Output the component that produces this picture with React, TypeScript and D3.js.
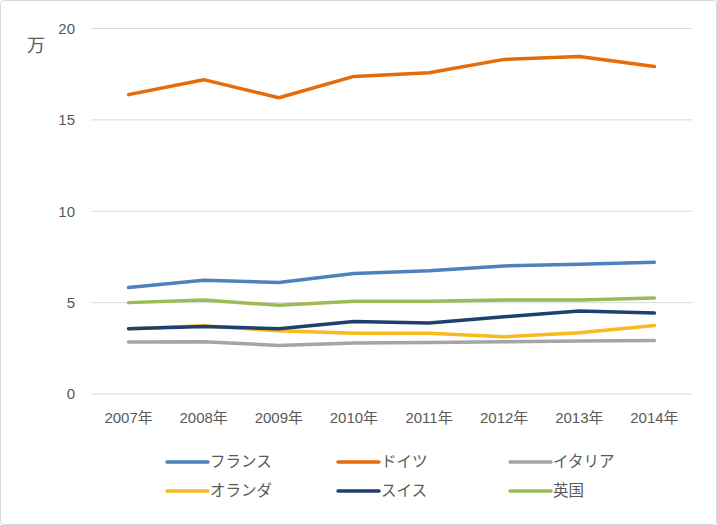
import React from "react";
import * as d3 from "d3";

const YEARS = ["2007年", "2008年", "2009年", "2010年", "2011年", "2012年", "2013年", "2014年"];
const Y_TICKS = [0, 5, 10, 15, 20];

const FRANCE = [5.83, 6.23, 6.1, 6.59, 6.74, 7.01, 7.1, 7.21];
const GERMANY = [16.38, 17.2, 16.21, 17.38, 17.58, 18.31, 18.47, 17.92];
const ITALY = [2.84, 2.86, 2.66, 2.79, 2.82, 2.86, 2.9, 2.93];
const NETHERLANDS = [3.57, 3.73, 3.46, 3.32, 3.32, 3.13, 3.35, 3.75];
const SWISS = [3.57, 3.7, 3.57, 3.97, 3.88, 4.23, 4.54, 4.43];
const UK = [5.0, 5.14, 4.86, 5.08, 5.08, 5.15, 5.14, 5.25];

const SERIES_NAMES = ["フランス", "ドイツ", "イタリア", "オランダ", "スイス", "英国"];
const SERIES_VALUES = [FRANCE, GERMANY, ITALY, NETHERLANDS, SWISS, UK];
const COLORS = ["#4F81BD", "#E46C0A", "#A5A5A5", "#F8BA1C", "#1F3F6E", "#9BBB59"];

const W = 717;
const H = 525;
const PLOT = { left: 91, right: 692, top: 28.5, bottom: 394 };
const FONT = "'Liberation Sans', 'Noto Sans CJK JP', sans-serif";
const TEXT = "#595959";

export default function App() {
  const x = d3
    .scalePoint<string>()
    .domain(YEARS)
    .range([PLOT.left, PLOT.right])
    .padding(0.5);
  const y = d3.scaleLinear().domain([0, 20]).range([PLOT.bottom, PLOT.top]);

  const line = d3
    .line<number>()
    .x((_, i) => x(YEARS[i]) as number)
    .y((d) => y(d));

  // 凡例の位置 (3列 x 2行)
  const legendCols = [167, 338, 510];
  const legendRows = [462, 491];

  // 描画順: 下の系列から
  const drawOrder = [2, 3, 4, 5, 0, 1];

  return (
    <svg
      width={W}
      height={H}
      style={{ position: "fixed", left: 0, top: 0, background: "#fff" }}
      fontFamily={FONT}
    >
      <rect x={0.5} y={0.5} width={W - 1} height={H - 1} rx={3} fill="#fff" stroke="#D9D9D9" />

      {Y_TICKS.map((t) => (
        <g key={t}>
          <line
            x1={PLOT.left}
            x2={PLOT.right}
            y1={y(t)}
            y2={y(t)}
            stroke="#D9D9D9"
            strokeWidth={1}
          />
          <text
            x={75}
            y={y(t)}
            dy="0.35em"
            textAnchor="end"
            fontSize={15}
            fill={TEXT}
          >
            {t}
          </text>
        </g>
      ))}

      <text x={36} y={46} dy="0.35em" textAnchor="middle" fontSize={18} fill={TEXT}>
        万
      </text>

      {YEARS.map((yr) => (
        <text
          key={yr}
          x={x(yr)}
          y={418}
          dy="0.35em"
          textAnchor="middle"
          fontSize={15}
          fill={TEXT}
        >
          {yr}
        </text>
      ))}

      {drawOrder.map((i) => (
        <path
          key={SERIES_NAMES[i]}
          d={line(SERIES_VALUES[i]) ?? ""}
          fill="none"
          stroke={COLORS[i]}
          strokeWidth={3.5}
          strokeLinejoin="round"
          strokeLinecap="round"
        />
      ))}

      {SERIES_NAMES.map((name, i) => {
        const lx = legendCols[i % 3];
        const ly = legendRows[Math.floor(i / 3)];
        return (
          <g key={name}>
            <line
              x1={lx}
              x2={lx + 41}
              y1={ly}
              y2={ly}
              stroke={COLORS[i]}
              strokeWidth={3.5}
              strokeLinecap="round"
            />
            <text x={lx + 43} y={ly} dy="0.35em" fontSize={15.5} fill={TEXT}>
              {name}
            </text>
          </g>
        );
      })}
    </svg>
  );
}
